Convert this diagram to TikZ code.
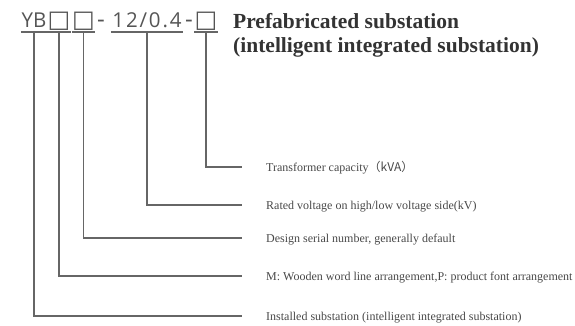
\documentclass[tikz,border=0pt]{standalone}
\usepackage{fontspec}
\setmainfont{Liberation Serif}
\newfontfamily\codefont{Open Sans}
\newfontfamily\codefontsp[LetterSpace=9]{Open Sans}
\newfontfamily\symfont{DejaVu Sans}
\newfontfamily\cjk{Noto Sans CJK SC}
\definecolor{codegray}{HTML}{555555}
\definecolor{ulgray}{HTML}{666666}
\definecolor{linegray}{HTML}{666666}
\definecolor{titlegray}{HTML}{333333}
\definecolor{labgray}{HTML}{484848}
\tikzset{
  seg/.style={font=\codefont\fontsize{20.5}{24}\selectfont, text=codegray, inner sep=0pt,
    text height=14pt, text depth=5pt, anchor=base},
  hyph/.style={seg, font=\codefont\fontsize{24}{28}\selectfont},
  sq/.style={seg, font=\symfont\fontsize{24}{28}\selectfont},
  ul/.style={draw=ulgray, line width=1.8pt},
  conn/.style={draw=linegray, line width=1.2pt},
  title/.style={font=\bfseries\fontsize{21.5}{24}\selectfont, text=titlegray, inner sep=0pt, anchor=base west},
  lab/.style={font=\fontsize{12}{14}\selectfont, text=labgray, inner sep=0pt, anchor=base west}
}
\begin{document}
\begin{tikzpicture}[x=1pt,y=-1pt]
\useasboundingbox (0,0) rectangle (575,325);
% code segments
\node[seg, minimum width=26pt] (yb) at (34,27) {YB};
\node[sq, minimum width=18pt] (s1) at (59,27) {□};
\node[sq, minimum width=19pt] (s2) at (83.5,27) {□};
\node[hyph] (d1) at (101,27) {-};
\node[seg, minimum width=72pt, font=\codefontsp\fontsize{20.5}{24}\selectfont] (v) at (147,27) {12/0.4};
\node[hyph] (d2) at (189,27) {-};
\node[sq, minimum width=18pt] (s3) at (206,27) {□};
% underlines
\foreach \n in {yb,s1,s2,v,s3} \draw[ul] (\n.south west) -- (\n.south east);
% title
\node[title] (t1) at (233,28.5) {Prefabricated substation};
\node[title] (t2) at (233,52.5) {(intelligent integrated substation)};
% labels
\node[lab] (l1) at (266,171) {Transformer capacity\cjk{（}kVA\cjk{）}};
\node[lab] (l2) at (266,209) {Rated voltage on high/low voltage side(kV)};
\node[lab] (l3) at (266,242) {Design serial number, generally default};
\node[lab] (l4) at (266,280) {M: Wooden word line arrangement,P: product font arrangement};
\node[lab] (l5) at (266,320) {Installed substation (intelligent integrated substation)};
% connector ends
\coordinate (e1) at (242,167);
\coordinate (e2) at (242,205);
\coordinate (e3) at (242,238);
\coordinate (e4) at (242,276);
\coordinate (e5) at (242,316);
\draw[conn] (s3.south) |- (e1);
\draw[conn] (v.south) |- (e2);
\draw[conn] (s2.south) |- (e3);
\draw[conn] (s1.south) |- (e4);
\draw[conn] (yb.south) |- (e5);
\end{tikzpicture}
\end{document}
